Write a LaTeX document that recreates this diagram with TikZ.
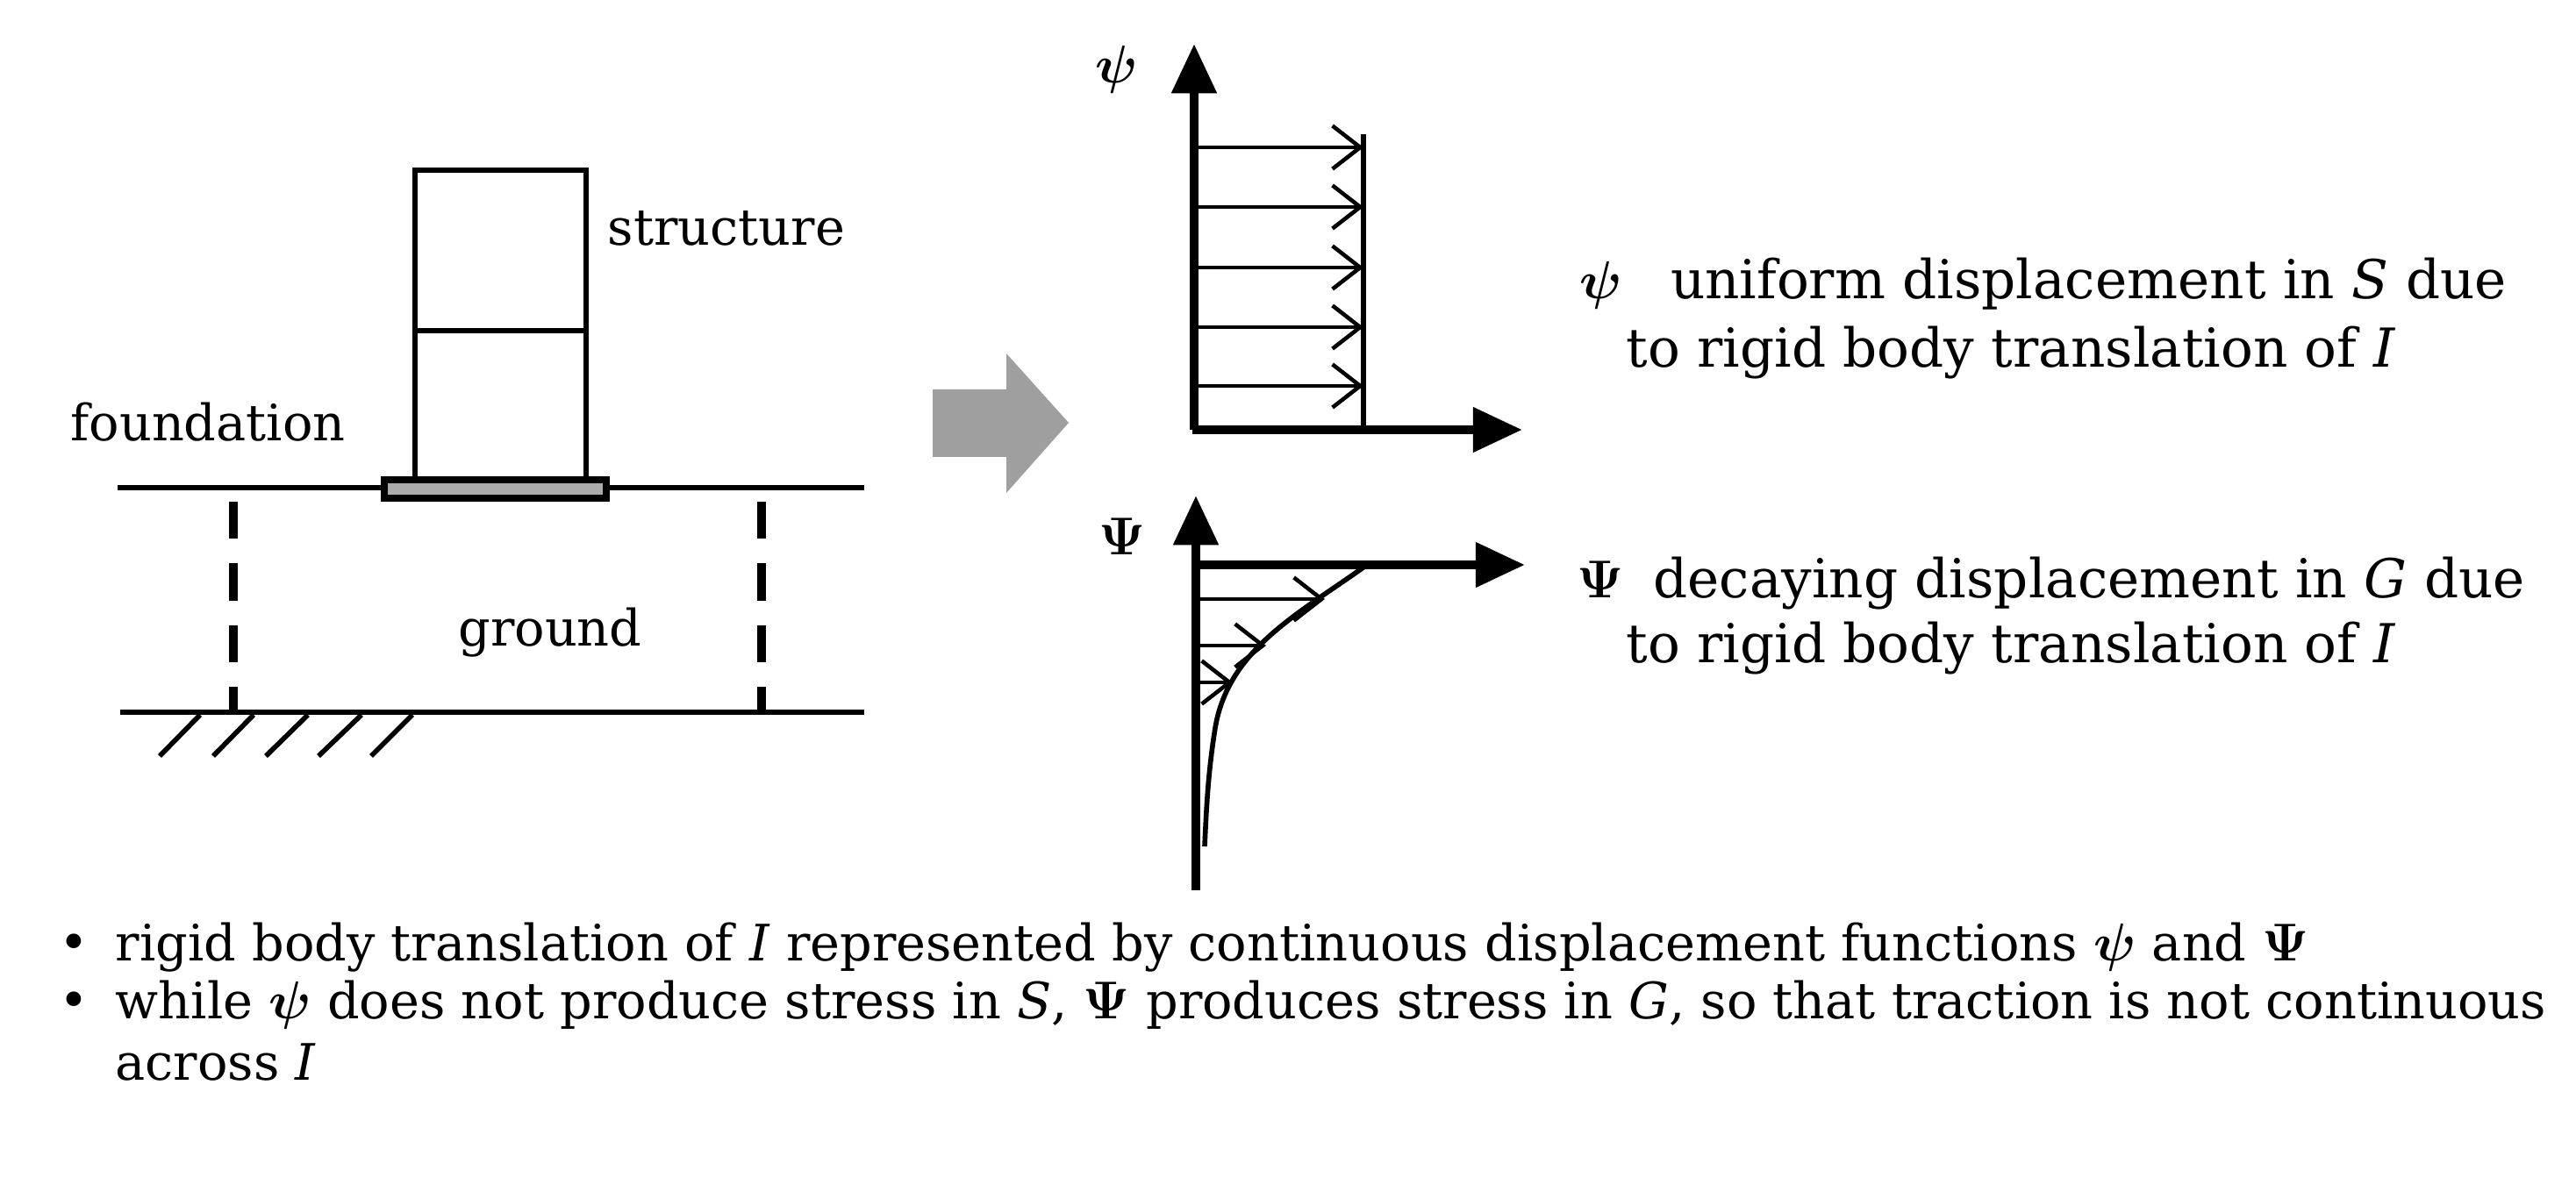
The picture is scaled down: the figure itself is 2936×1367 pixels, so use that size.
\documentclass[tikz,border=0pt]{standalone}
\usepackage{amsmath,amssymb}
\usepackage{fontspec}
\setmainfont{DejaVu Serif}
\usetikzlibrary{arrows.meta}
\begin{document}
\begin{tikzpicture}[x=0.01cm,y=-0.01cm,
  txt/.style={font=\fontsize{16.3}{19}\selectfont, inner sep=0pt},
  rtxt/.style={font=\fontsize{17.4}{20}\selectfont, inner sep=0pt, anchor=west},
  thin/.style={line width=1.6pt},
  axis/.style={line width=3pt,-{Triangle[length=16pt,width=14pt]}},
  disp/.style={line width=1.3pt,-{Straight Barb[length=9pt,width=14pt,line width=1.3pt]}}]
\useasboundingbox (0,0) rectangle (2936,1367);
% left diagram
\draw[thin] (473,194) rectangle (668,550);
\draw[thin] (473,377) -- (668,377);
\draw[thin] (134,556) -- (985,556);
\draw[thin] (137,812) -- (985,812);
\draw[line width=2pt, fill=gray!90!black!60] (438,547) rectangle (691,568);
\draw[line width=2.6pt, dash pattern=on 12pt off 8pt] (266,572) -- (266,812);
\draw[line width=2.6pt, dash pattern=on 12pt off 8pt] (868,572) -- (868,812);
\foreach \a/\b in {228/182,289/243,351/303,412/363,470/423}
  \draw[thin] (\a,815) -- (\b,862);
\node[txt] (structure) at (828,260) {structure};
\node[txt] (foundation) at (237,481) {foundation};
\node[txt] (ground) at (627,721) {ground};
% gray arrow
\fill[gray!75] (1063,444) -- (1147,444) -- (1147,403) -- (1218,482) -- (1147,562) -- (1147,521) -- (1063,521) -- cycle;
% top plot
\coordinate (o1) at (1361,490);
\draw[axis] (o1) -- (1361,50);
\draw[axis] (1359,490) -- (1735,490);
\draw[thin] (1554,153) -- (1554,490);
\foreach \y in {168,236,305,373,440}
  \draw[disp] (1361,\y) -- (1554,\y);
\node[font=\fontsize{18}{20}\selectfont] (psi1) at (1273,79) {$\boldsymbol{\psi}$};
% bottom plot
\draw[axis] (1363,1015) -- (1363,565);
\draw[axis] (1361,644) -- (1738,644);
\draw[line width=1.6pt] (1558,644) .. controls (1480,700) and (1400,740) .. (1385,830) .. controls (1377,880) and (1375,920) .. (1373,965);
\draw[disp] (1363,683) -- (1510,683);
\draw[disp] (1363,736) -- (1443,736);
\draw[disp] (1363,778) -- (1405,778);
\node[font=\fontsize{18}{20}\selectfont] (psi2) at (1279,612) {$\boldsymbol{\Psi}$};
% right texts
\node[rtxt] (t1a) at (1800,324) {$\boldsymbol{\psi}$\hspace{0.9em}uniform displacement in \textit{S} due};
\node[rtxt] (t1b) at (1853,402) {to rigid body translation of \textit{I}};
\node[rtxt] (t2a) at (1797,665) {$\boldsymbol{\Psi}$\hspace{0.55em}decaying displacement in \textit{G} due};
\node[rtxt] (t2b) at (1853,739) {to rigid body translation of \textit{I}};
% bullets
\node[txt] (b1) at (84,1080) {•};
\node[txt] (b2) at (84,1146) {•};
\node[txt, anchor=west] (l1) at (131,1080) {rigid body translation of \textit{I} represented by continuous displacement functions $\boldsymbol{\psi}$ and $\boldsymbol{\Psi}$};
\node[txt, anchor=west] (l2) at (131,1146) {while $\boldsymbol{\psi}$ does not produce stress in \textit{S}, $\boldsymbol{\Psi}$ produces stress in \textit{G}, so that traction is not continuous};
\node[txt, anchor=west] (l3) at (131,1211) {across \textit{I}};
\end{tikzpicture}
\end{document}
